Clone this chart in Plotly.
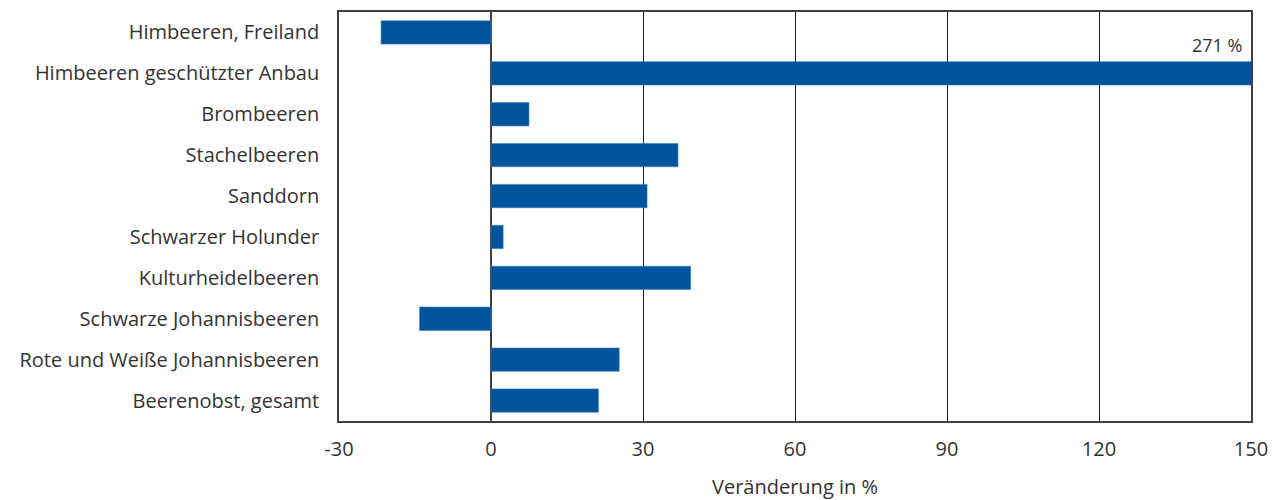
import plotly.graph_objects as go

categories = [
    "Himbeeren, Freiland",
    "Himbeeren geschützter Anbau",
    "Brombeeren",
    "Stachelbeeren",
    "Sanddorn",
    "Schwarzer Holunder",
    "Kulturheidelbeeren",
    "Schwarze Johannisbeeren",
    "Rote und Weiße Johannisbeeren",
    "Beerenobst, gesamt",
]
values = [-21.7, 271, 7.5, 36.9, 30.8, 2.4, 39.4, -14.1, 25.3, 21.2]
x_ticks = [-30, 0, 30, 60, 90, 120, 150]
x_range = [-30, 150]
label_cat = "Himbeeren geschützter Anbau"
label_text = "271 %"

font_family = "Open Sans, Noto Sans, sans-serif"
text_color = "#333333"

fig = go.Figure(
    go.Bar(
        x=values,
        y=categories,
        orientation="h",
        width=0.57,
        marker=dict(color="#00549C", line=dict(color="#3F7DBA", width=0.6)),
        hoverinfo="x+y",
    )
)

fig.add_annotation(
    x=x_range[1], y=label_cat, xref="x", yref="y",
    text=label_text, showarrow=False,
    xanchor="right", yanchor="middle",
    xshift=-7, yshift=28,
    font=dict(size=18, color=text_color, family=font_family),
)

fig.update_layout(
    width=1285, height=500,
    margin=dict(l=331, r=42, t=2, b=87),
    plot_bgcolor="white", paper_bgcolor="white",
    showlegend=False,
    font=dict(family=font_family, size=20, color=text_color),
)
fig.update_xaxes(
    range=x_range, tickvals=x_ticks, ticktext=[str(v) for v in x_ticks],
    showgrid=True, gridcolor="#1a1a1a", gridwidth=1,
    zeroline=True, zerolinecolor="#404040", zerolinewidth=1.5,
    showline=True, linecolor="#404040", linewidth=1.5, mirror=True,
    ticks="", ticklabelstandoff=9,
    tickfont=dict(size=20, color=text_color),
    title=dict(text="Veränderung in %", standoff=19, font=dict(size=20, color=text_color)),
)
fig.update_yaxes(
    autorange="reversed", showgrid=False,
    showline=True, linecolor="#404040", linewidth=1.5, mirror=True,
    ticks="", ticklabelstandoff=14,
    tickfont=dict(size=20, color=text_color),
)

fig.write_html("out.html")
